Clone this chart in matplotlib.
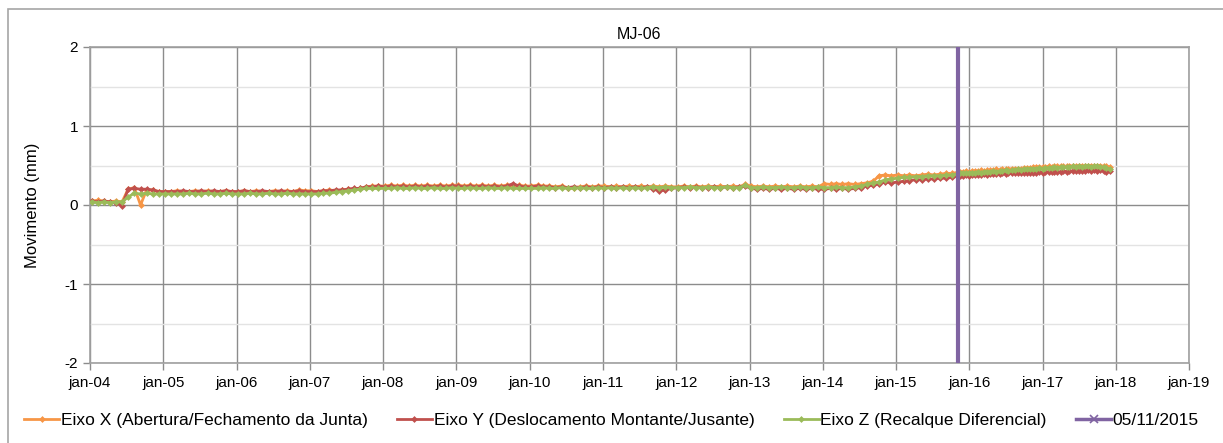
import matplotlib
matplotlib.use("Agg")
import matplotlib.pyplot as plt
import matplotlib.dates as mdates
from matplotlib.lines import Line2D
from matplotlib.patches import Rectangle
import pandas as pd

plt.rcParams['font.family'] = ['Liberation Sans', 'DejaVu Sans']
plt.rcParams['axes.unicode_minus'] = False

title = "MJ-06"
ylabel = "Movimento (mm)"
names = ["Eixo X (Abertura/Fechamento da Junta)",
         "Eixo Y (Deslocamento Montante/Jusante)",
         "Eixo Z (Recalque Diferencial)",
         "05/11/2015"]
event_date = "2015-11-05"

# Monthly readings Jan-2004 .. Oct-2015 (one row per year)
x_monthly = [
    [0.05, 0.06, 0.05, 0.04, 0.05, 0.04, 0.20, 0.22, 0.00, 0.19, 0.19, 0.17],
    [0.17, 0.17, 0.18, 0.17, 0.17, 0.18, 0.17, 0.18, 0.17, 0.17, 0.18, 0.17],
    [0.17, 0.18, 0.17, 0.18, 0.17, 0.17, 0.18, 0.17, 0.18, 0.17, 0.19, 0.18],
    [0.18, 0.17, 0.18, 0.19, 0.18, 0.19, 0.20, 0.20, 0.21, 0.23, 0.24, 0.24],
    [0.24, 0.25, 0.24, 0.25, 0.24, 0.25, 0.24, 0.25, 0.24, 0.25, 0.24, 0.25],
    [0.25, 0.24, 0.25, 0.24, 0.25, 0.24, 0.25, 0.24, 0.25, 0.24, 0.25, 0.24],
    [0.24, 0.25, 0.24, 0.24, 0.23, 0.24, 0.22, 0.22, 0.23, 0.24, 0.23, 0.24],
    [0.24, 0.23, 0.24, 0.23, 0.24, 0.23, 0.24, 0.23, 0.24, 0.23, 0.24, 0.23],
    [0.23, 0.24, 0.23, 0.24, 0.23, 0.24, 0.23, 0.24, 0.23, 0.24, 0.23, 0.26],
    [0.24, 0.23, 0.24, 0.23, 0.24, 0.23, 0.24, 0.23, 0.24, 0.23, 0.24, 0.23],
    [0.27, 0.26, 0.27, 0.26, 0.27, 0.26, 0.27, 0.28, 0.30, 0.37, 0.38, 0.37],
    [0.38, 0.37, 0.38, 0.37, 0.38, 0.39, 0.38, 0.39, 0.40, 0.40],
]
y_monthly = [
    [0.05, 0.04, 0.05, 0.04, 0.03, -0.01, 0.20, 0.21, 0.20, 0.20, 0.19, 0.17],
    [0.17, 0.17, 0.17, 0.18, 0.17, 0.17, 0.18, 0.17, 0.18, 0.17, 0.18, 0.17],
    [0.17, 0.18, 0.17, 0.17, 0.18, 0.17, 0.17, 0.18, 0.17, 0.17, 0.18, 0.17],
    [0.17, 0.17, 0.18, 0.18, 0.19, 0.19, 0.20, 0.21, 0.21, 0.23, 0.23, 0.24],
    [0.23, 0.24, 0.23, 0.24, 0.23, 0.24, 0.23, 0.24, 0.23, 0.24, 0.23, 0.24],
    [0.24, 0.23, 0.24, 0.23, 0.24, 0.23, 0.24, 0.23, 0.24, 0.27, 0.24, 0.23],
    [0.23, 0.24, 0.23, 0.23, 0.22, 0.23, 0.22, 0.23, 0.22, 0.23, 0.22, 0.23],
    [0.22, 0.23, 0.22, 0.23, 0.22, 0.23, 0.22, 0.23, 0.20, 0.18, 0.19, 0.21],
    [0.22, 0.23, 0.22, 0.23, 0.22, 0.22, 0.23, 0.22, 0.23, 0.22, 0.23, 0.24],
    [0.21, 0.20, 0.21, 0.20, 0.21, 0.20, 0.21, 0.20, 0.21, 0.20, 0.21, 0.20],
    [0.20, 0.21, 0.20, 0.21, 0.20, 0.21, 0.22, 0.24, 0.25, 0.27, 0.29, 0.28],
    [0.29, 0.30, 0.31, 0.32, 0.32, 0.33, 0.33, 0.34, 0.34, 0.35],
]
z_monthly = [
    [0.04, 0.03, 0.04, 0.03, 0.04, 0.04, 0.10, 0.15, 0.14, 0.15, 0.14, 0.14],
    [0.14, 0.14, 0.14, 0.14, 0.15, 0.14, 0.14, 0.15, 0.14, 0.14, 0.15, 0.14],
    [0.14, 0.14, 0.15, 0.14, 0.14, 0.15, 0.14, 0.14, 0.15, 0.14, 0.14, 0.14],
    [0.14, 0.14, 0.15, 0.15, 0.16, 0.17, 0.18, 0.19, 0.20, 0.21, 0.21, 0.21],
    [0.21, 0.21, 0.22, 0.21, 0.21, 0.22, 0.21, 0.21, 0.22, 0.21, 0.21, 0.22],
    [0.21, 0.21, 0.22, 0.21, 0.21, 0.22, 0.21, 0.21, 0.22, 0.21, 0.21, 0.21],
    [0.21, 0.21, 0.22, 0.21, 0.21, 0.22, 0.21, 0.21, 0.22, 0.21, 0.21, 0.22],
    [0.21, 0.22, 0.21, 0.22, 0.21, 0.22, 0.21, 0.22, 0.23, 0.22, 0.23, 0.22],
    [0.22, 0.22, 0.23, 0.22, 0.22, 0.23, 0.22, 0.22, 0.23, 0.22, 0.22, 0.25],
    [0.22, 0.22, 0.23, 0.22, 0.22, 0.23, 0.22, 0.22, 0.23, 0.22, 0.22, 0.23],
    [0.22, 0.22, 0.23, 0.22, 0.22, 0.23, 0.24, 0.26, 0.28, 0.29, 0.32, 0.33],
    [0.34, 0.35, 0.35, 0.36, 0.36, 0.37, 0.37, 0.37, 0.38, 0.38],
]

# Semi-monthly readings Nov-2015 .. Nov-2017
x_dense = [0.42, 0.42, 0.43, 0.42, 0.43, 0.43, 0.43, 0.44, 0.43, 0.44,
           0.44, 0.44, 0.45, 0.44, 0.45, 0.45, 0.45, 0.46, 0.46, 0.46,
           0.46, 0.47, 0.47, 0.47, 0.48, 0.48, 0.48, 0.48, 0.48, 0.49,
           0.48, 0.49, 0.49, 0.49, 0.49, 0.49, 0.50, 0.49, 0.49, 0.50,
           0.50, 0.49, 0.50, 0.50, 0.49, 0.50, 0.50, 0.49, 0.49, 0.48]
y_dense = [0.37, 0.37, 0.38, 0.37, 0.38, 0.38, 0.38, 0.38, 0.39, 0.38,
           0.39, 0.39, 0.39, 0.39, 0.40, 0.39, 0.40, 0.40, 0.40, 0.40,
           0.41, 0.40, 0.41, 0.41, 0.41, 0.41, 0.42, 0.41, 0.42, 0.42,
           0.42, 0.42, 0.42, 0.42, 0.43, 0.42, 0.43, 0.43, 0.43, 0.43,
           0.43, 0.43, 0.44, 0.43, 0.44, 0.43, 0.44, 0.43, 0.42, 0.43]
z_dense = [0.40, 0.41, 0.40, 0.41, 0.41, 0.41, 0.42, 0.41, 0.42, 0.42,
           0.42, 0.43, 0.42, 0.43, 0.43, 0.44, 0.43, 0.44, 0.44, 0.45,
           0.44, 0.45, 0.45, 0.46, 0.46, 0.46, 0.47, 0.46, 0.47, 0.47,
           0.47, 0.48, 0.47, 0.48, 0.48, 0.48, 0.48, 0.49, 0.48, 0.49,
           0.48, 0.49, 0.49, 0.48, 0.49, 0.49, 0.48, 0.48, 0.47, 0.45]

colors = ["#F79646", "#C0504D", "#9BBB59", "#8064A2"]


def flat(rows):
    return [v for r in rows for v in r]


xs = flat(x_monthly) + x_dense
ys = flat(y_monthly) + y_dense
zs = flat(z_monthly) + z_dense

n_month = len(flat(x_monthly))
d_month = list(pd.date_range("2004-01-01", periods=n_month, freq="MS") + pd.Timedelta(days=8))
d_dense = list(pd.date_range("2015-11-08", periods=len(x_dense), freq="SMS"))
dates = d_month + d_dense

fig = plt.figure(figsize=(12.23, 4.43), dpi=100)
W, H = 1223, 443
ax = fig.add_axes([90 / W, 1 - 363 / H, (1189 - 90) / W, (363 - 47) / H])

# outer chart border
fig.patches.append(Rectangle((8 / W, -0.05), 1.2, 1 - 9 / H + 0.05, transform=fig.transFigure,
                             fill=False, edgecolor="#A6A6A6", linewidth=1.2, zorder=0))

handles = []
for vals, c, name in zip([xs, ys, zs], colors[:3], names[:3]):
    h, = ax.plot(dates, vals, color=c, linewidth=2.0, marker="D", markersize=3.5,
                 markeredgewidth=0, label=name, zorder=3)
    handles.append(h)

ev = pd.Timestamp(event_date)
ax.plot([ev, ev], [-2, 2], color=colors[3], linewidth=3, zorder=4, solid_capstyle="butt")
handles.append(Line2D([], [], color=colors[3], linewidth=2.5, marker="x", markersize=6,
                      markeredgewidth=1.2))

ax.set_xlim(pd.Timestamp("2004-01-01"), pd.Timestamp("2019-01-01"))
ax.set_ylim(-2, 2)
ax.set_yticks([-2, -1, 0, 1, 2])
ax.set_yticks([-1.5, -0.5, 0.5, 1.5], minor=True)
ax.tick_params(axis="y", which="minor", length=0)
ax.xaxis.set_major_locator(mdates.YearLocator())
ax.xaxis.set_major_formatter(mdates.DateFormatter("jan-%y"))
ax.grid(True, which="major", color="#8C8C8C", linewidth=1.0, zorder=0)
ax.grid(True, which="minor", axis="y", color="#E3E3E3", linewidth=1.0, zorder=0)
ax.set_axisbelow(True)
for s in ax.spines.values():
    s.set_color("#A0A0A0")
    s.set_linewidth(1.2)
ax.tick_params(axis="both", which="major", labelsize=11, color="#8C8C8C", length=5, width=1)
ax.tick_params(axis="x", pad=4)

ax.set_title(title, fontsize=11.5, pad=6)
ax.set_ylabel(ylabel, fontsize=12, labelpad=18)

fig.legend(handles, names, loc="center", bbox_to_anchor=(0.5, 1 - 420 / H), ncol=4,
           frameon=False, handlelength=2.0, columnspacing=1.7, handletextpad=0.1,
           borderpad=0.2, fontsize=12.5)

fig.savefig("out.png", dpi=100)
